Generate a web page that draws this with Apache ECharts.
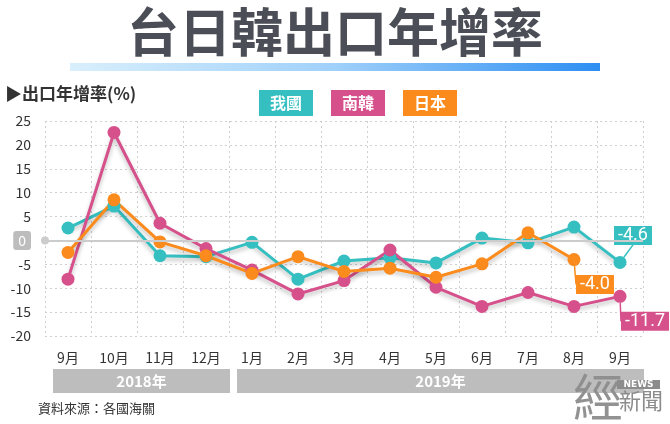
<!DOCTYPE html>
<html><head><meta charset="utf-8">
<script src="https://cdn.jsdelivr.net/npm/echarts@6/dist/echarts.min.js"></script>
<style>html,body{margin:0;padding:0;background:#fff}#c{width:670px;height:424px}</style>
</head><body><div id="c"></div>
<script>
const categories = ['9月','10月','11月','12月','1月','2月','3月','4月','5月','6月','7月','8月','9月'];
const taiwan = [2.6, 7.2, -3.2, -3.4, -0.4, -8.1, -4.3, -3.6, -4.7, 0.5, -0.5, 2.8, -4.6];
const korea  = [-8.1, 22.6, 3.6, -1.7, -6.2, -11.2, -8.4, -2.0, -9.8, -13.8, -10.9, -13.8, -11.7];
const japan  = [-2.5, 8.5, -0.3, -3.2, -6.9, -3.4, -6.5, -5.8, -7.7, -4.9, 1.6, -4.0];
const seriesNames = ['我國','南韓','日本'];
const yearGroups = [{name:'2018年', from:0, to:3},{name:'2019年', from:4, to:12}];
const colors = ['#35bfc0','#d6508b','#fb8b1d'];
const FONT = '"Noto Sans CJK TC","Noto Sans",sans-serif';

const chart = echarts.init(document.getElementById('c'), null, {renderer:'canvas'});

function makeData(arr){
  return arr.map((v,i)=> i===arr.length-1 ? {value:v, label:{show:true}} : v);
}
function mkSeries(name, arr, color, dx, dy){
  return {
    name, type:'line', data: makeData(arr), color,
    symbol:'circle', symbolSize:13,
    lineStyle:{width:3, color, shadowColor:'rgba(0,0,0,0.25)', shadowBlur:4, shadowOffsetY:3},
    itemStyle:{color},
    label:{show:false, position:'inside', formatter: p => p.value.toFixed(1),
      backgroundColor:color, color:'#fff', fontSize:18, fontFamily:'Roboto, sans-serif',
      padding:[1,4,0,4], lineHeight:18},
    labelLayout:{dx, dy},
    labelLine:{show:true, lineStyle:{color, width:1.5}},
    z:3
  };
}

const option = {
  animation:false,
  grid:{left:45, right:27, top:121, bottom:88},
  legend:{
    left:249, top:85, itemWidth:0, itemHeight:0, itemGap:13, selectedMode:false,
    data: seriesNames.map((n,i)=>({name:n, icon:'rect', textStyle:{
      backgroundColor:colors[i], color:'#fff', fontSize:16, fontWeight:'bold', fontFamily:FONT,
      padding:[5,11,5,11], lineHeight:16}}))
  },
  xAxis:{
    type:'category', data:categories, boundaryGap:true,
    axisLine:{show:false}, axisTick:{show:false},
    axisLabel:{color:'#333', fontSize:14, margin:15, fontFamily:FONT, interval:0},
    splitLine:{show:true, lineStyle:{color:'#cfcfcf', type:[2,3], width:1}}
  },
  yAxis:{
    type:'value', min:-20, max:25, interval:5,
    axisLine:{show:false}, axisTick:{show:false},
    axisLabel:{color:'#333', fontSize:14, margin:14, fontFamily:FONT,
      formatter: v => v===0 ? '{z|0}' : String(v),
      rich:{z:{backgroundColor:'#bdbdbd', color:'#fff', borderRadius:3, padding:[3,5,2,5], fontSize:14}}},
    splitLine:{show:true, lineStyle:{color:'#cfcfcf', type:[2,3], width:1}}
  },
  series:[
    {type:'line', data:[], z:1, silent:true,
     markLine:{silent:true, symbol:['circle','none'], symbolSize:8, label:{show:false},
       lineStyle:{color:'#cccccc', type:'solid', width:2}, data:[{yAxis:0}]}},
    mkSeries(seriesNames[0], taiwan, colors[0], 13, -27),
    mkSeries(seriesNames[1], korea, colors[1], 25, 25),
    mkSeries(seriesNames[2], japan, colors[2], 21, 25)
  ]
};
chart.setOption(option);

const graphics = [
  {type:'text', left:'center', top:6, style:{text:'台日韓出口年增率', font:'bold 52px '+FONT, fill:'#4b4e56'}},
  {type:'rect', shape:{x:70, y:63, width:530, height:8},
    style:{fill:new echarts.graphic.LinearGradient(0,0,1,0,[{offset:0,color:'#d9effc'},{offset:0.5,color:'#9fd0fa'},{offset:1,color:'#2d8ef2'}])}},
  {type:'text', x:5, y:85, style:{text:'▶出口年增率(%)', font:'bold 17px '+FONT, fill:'#333'}},
  {type:'text', x:38, y:402, style:{text:'資料來源：各國海關', font:'13px '+FONT, fill:'#333'}}
];
const half = chart.convertToPixel({xAxisIndex:0}, 1) - chart.convertToPixel({xAxisIndex:0}, 0);
yearGroups.forEach(g=>{
  const x0 = chart.convertToPixel({xAxisIndex:0}, g.from) - half/2 + 8;
  const x1 = chart.convertToPixel({xAxisIndex:0}, g.to) + half/2 + 1;
  graphics.push({type:'rect', shape:{x:x0, y:369, width:x1-x0, height:24}, style:{fill:'#bdbdbd'}});
  graphics.push({type:'text', x:(x0+x1)/2, y:381, style:{text:g.name, font:'bold 15px '+FONT, fill:'#fff', align:'center', verticalAlign:'middle'}});
});
graphics.push(
  {type:'text', x:573, y:372, style:{text:'經', font:'normal 50px '+FONT, fill:'rgba(140,140,140,0.95)'}},
  {type:'rect', shape:{x:617, y:380, width:43, height:9}, style:{fill:'#8c8c8c'}},
  {type:'text', x:638.5, y:380.5, style:{text:'NEWS', font:'bold 9px "DejaVu Sans",sans-serif', fill:'#fff', align:'center'}},
  {type:'text', x:619, y:390, style:{text:'新聞', font:'normal 22px '+FONT, fill:'#8c8c8c'}}
);
chart.setOption({graphic:graphics});
</script></body></html>
